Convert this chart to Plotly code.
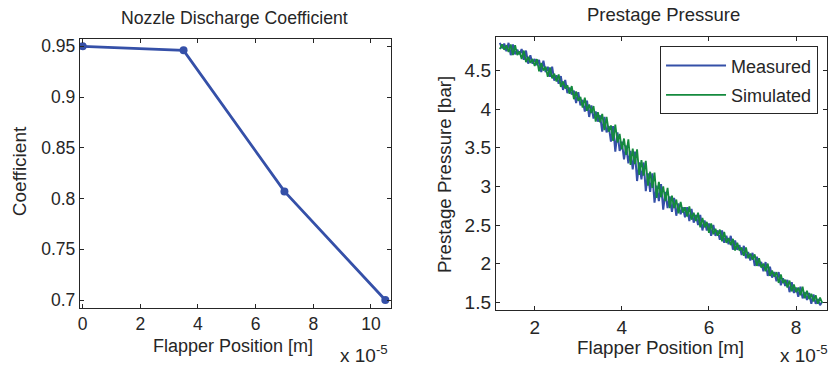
import plotly.graph_objects as go

# ---------------- data ----------------
# Left: nozzle discharge coefficient
flapper_pos_cd = [0.0, 3.5e-5, 7.0e-5, 10.5e-5]
discharge_coeff = [0.950, 0.946, 0.807, 0.700]

# Right: prestage pressure, flapper position in units of 1e-5 m
pos_units = [1.20, 1.25, 1.30, 1.35, 1.40, 1.45, 1.50, 1.55, 1.60, 1.65, 1.70, 1.75, 1.80, 1.85, 1.90,
             1.95, 2.00, 2.05, 2.10, 2.15, 2.20, 2.25, 2.30, 2.35, 2.40, 2.45, 2.50, 2.55, 2.60, 2.65,
             2.70, 2.75, 2.80, 2.85, 2.90, 2.95, 3.00, 3.05, 3.10, 3.15, 3.20, 3.25, 3.30, 3.35, 3.40,
             3.45, 3.50, 3.55, 3.60, 3.65, 3.70, 3.75, 3.80, 3.85, 3.90, 3.95, 4.00, 4.05, 4.10, 4.15,
             4.20, 4.25, 4.30, 4.35, 4.40, 4.45, 4.50, 4.55, 4.60, 4.65, 4.70, 4.75, 4.80, 4.85, 4.90,
             4.95, 5.00, 5.05, 5.10, 5.15, 5.20, 5.25, 5.30, 5.35, 5.40, 5.45, 5.50, 5.55, 5.60, 5.65,
             5.70, 5.75, 5.80, 5.85, 5.90, 5.95, 6.00, 6.05, 6.10, 6.15, 6.20, 6.25, 6.30, 6.35, 6.40,
             6.45, 6.50, 6.55, 6.60, 6.65, 6.70, 6.75, 6.80, 6.85, 6.90, 6.95, 7.00, 7.05, 7.10, 7.15,
             7.20, 7.25, 7.30, 7.35, 7.40, 7.45, 7.50, 7.55, 7.60, 7.65, 7.70, 7.75, 7.80, 7.85, 7.90,
             7.95, 8.00, 8.05, 8.10, 8.15, 8.20, 8.25, 8.30, 8.35, 8.40, 8.45, 8.50, 8.55, 8.60]

measured_bar = [4.86, 4.79, 4.85, 4.75, 4.86, 4.70, 4.84, 4.71, 4.77, 4.71, 4.78, 4.64, 4.76, 4.59, 4.70,
                4.59, 4.65, 4.57, 4.64, 4.48, 4.63, 4.48, 4.55, 4.42, 4.55, 4.37, 4.44, 4.33, 4.43, 4.25,
                4.38, 4.21, 4.28, 4.19, 4.24, 4.08, 4.22, 4.05, 4.12, 3.97, 4.11, 3.90, 4.05, 3.88, 3.97,
                3.84, 3.92, 3.71, 3.90, 3.70, 3.78, 3.58, 3.78, 3.45, 3.70, 3.46, 3.58, 3.35, 3.53, 3.30,
                3.46, 3.22, 3.45, 3.07, 3.31, 3.09, 3.31, 2.94, 3.17, 2.93, 3.17, 2.79, 3.01, 2.81, 3.03,
                2.70, 2.93, 2.72, 2.87, 2.67, 2.85, 2.62, 2.78, 2.64, 2.73, 2.60, 2.73, 2.55, 2.71, 2.53,
                2.63, 2.50, 2.63, 2.43, 2.56, 2.43, 2.52, 2.36, 2.50, 2.36, 2.43, 2.31, 2.43, 2.27, 2.36,
                2.25, 2.36, 2.18, 2.30, 2.18, 2.24, 2.11, 2.23, 2.07, 2.15, 2.04, 2.14, 1.97, 2.09, 1.97,
                2.02, 1.90, 2.02, 1.84, 1.96, 1.82, 1.89, 1.77, 1.89, 1.72, 1.81, 1.71, 1.79, 1.63, 1.76,
                1.62, 1.69, 1.57, 1.70, 1.55, 1.63, 1.53, 1.62, 1.48, 1.60, 1.48, 1.54, 1.46, 1.51]

simulated_bar = [4.78, 4.84, 4.77, 4.83, 4.74, 4.84, 4.70, 4.83, 4.70, 4.75, 4.65, 4.76, 4.61, 4.68, 4.60,
                 4.65, 4.56, 4.65, 4.49, 4.60, 4.50, 4.55, 4.42, 4.54, 4.40, 4.46, 4.36, 4.45, 4.29, 4.36,
                 4.27, 4.31, 4.20, 4.30, 4.13, 4.23, 4.11, 4.16, 4.02, 4.15, 3.98, 4.06, 3.95, 4.04, 3.84,
                 3.96, 3.83, 3.94, 3.73, 3.90, 3.71, 3.79, 3.59, 3.80, 3.57, 3.68, 3.48, 3.62, 3.41, 3.61,
                 3.28, 3.49, 3.29, 3.48, 3.15, 3.34, 3.14, 3.33, 3.01, 3.19, 2.98, 3.18, 2.85, 3.06, 2.86,
                 3.00, 2.81, 2.98, 2.72, 2.88, 2.72, 2.83, 2.65, 2.80, 2.66, 2.73, 2.61, 2.74, 2.57, 2.66,
                 2.55, 2.66, 2.47, 2.59, 2.47, 2.54, 2.40, 2.52, 2.38, 2.45, 2.36, 2.44, 2.29, 2.41, 2.27,
                 2.33, 2.24, 2.32, 2.17, 2.27, 2.17, 2.21, 2.10, 2.21, 2.07, 2.13, 2.05, 2.12, 1.97, 2.07,
                 1.95, 2.00, 1.90, 2.00, 1.84, 1.91, 1.83, 1.89, 1.75, 1.86, 1.75, 1.79, 1.69, 1.78, 1.64,
                 1.73, 1.63, 1.69, 1.59, 1.70, 1.55, 1.65, 1.54, 1.61, 1.51, 1.59, 1.48, 1.56, 1.49]

pos_scale = 1e-5
pos_m = [v * pos_scale for v in pos_units]

left_xticks = [0, 2e-5, 4e-5, 6e-5, 8e-5, 10e-5]
left_xticklabels = ["0", "2", "4", "6", "8", "10"]
left_yticks = [0.70, 0.75, 0.80, 0.85, 0.90, 0.95]
left_yticklabels = ["0.7", "0.75", "0.8", "0.85", "0.9", "0.95"]
right_xticks = [2e-5, 4e-5, 6e-5, 8e-5]
right_xticklabels = ["2", "4", "6", "8"]
right_yticks = [1.5, 2, 2.5, 3, 3.5, 4, 4.5]
right_yticklabels = ["1.5", "2", "2.5", "3", "3.5", "4", "4.5"]

# ---------------- style ----------------
BLUE = "#3550a8"
GREEN = "#148a3e"
TXT = "#262626"
FONT = "Liberation Sans, Arial, sans-serif"
W, H = 833, 369

fig = go.Figure()

fig.add_trace(go.Scatter(
    x=flapper_pos_cd, y=discharge_coeff, mode="lines+markers",
    line=dict(color=BLUE, width=2.8),
    marker=dict(symbol="circle", size=8, color=BLUE),
    xaxis="x", yaxis="y", showlegend=False))

fig.add_trace(go.Scatter(
    x=pos_m, y=measured_bar, mode="lines", name="Measured",
    line=dict(color=BLUE, width=2.0), legendgroup="m",
    xaxis="x2", yaxis="y2"))
fig.add_trace(go.Scatter(
    x=pos_m, y=simulated_bar, mode="lines", name="Simulated",
    line=dict(color=GREEN, width=1.8), legendgroup="s",
    xaxis="x2", yaxis="y2"))

def px(x):
    return x / W

def py(y):
    return (H - y) / H

def axis_style(tick_size):
    return dict(
        showgrid=False, zeroline=False, showline=True, linecolor=TXT, linewidth=1,
        mirror="ticks", ticks="inside", ticklen=4, tickcolor=TXT,
        tickfont=dict(family=FONT, size=tick_size, color=TXT),
    )

fig.update_layout(
    width=W, height=H, autosize=False,
    margin=dict(l=0, r=0, t=0, b=0),
    paper_bgcolor="white", plot_bgcolor="white",
    font=dict(family=FONT, size=17, color=TXT),
    xaxis=dict(domain=[px(78), px(390)], range=[-0.1e-5, 10.7e-5],
               tickvals=left_xticks, ticktext=left_xticklabels, anchor="y", **axis_style(17.5)),
    yaxis=dict(domain=[py(310), py(37)], range=[0.6922, 0.9568],
               tickvals=left_yticks, ticktext=left_yticklabels, anchor="x", **axis_style(17.5)),
    xaxis2=dict(domain=[px(495), px(827)], range=[1.107e-5, 8.71e-5],
                tickvals=right_xticks, ticktext=right_xticklabels, anchor="y2", **axis_style(19)),
    yaxis2=dict(domain=[py(312), py(35)], range=[1.40, 4.93],
                tickvals=right_yticks, ticktext=right_yticklabels, anchor="x2", **axis_style(19)),
    legend=dict(x=px(818), y=py(44), xanchor="right", yanchor="top",
                bgcolor="white", bordercolor=TXT, borderwidth=1,
                font=dict(family=FONT, size=18, color=TXT),
                tracegroupgap=3, itemwidth=60),
    showlegend=True,
)

def ann(text, x, y, size=17, angle=0, xanchor="center", yanchor="middle"):
    fig.add_annotation(text=text, x=px(x), y=py(y), xref="paper", yref="paper",
                       showarrow=False, textangle=angle, xanchor=xanchor, yanchor=yanchor,
                       font=dict(family=FONT, size=size, color=TXT))

ann("Nozzle Discharge Coefficient", 233, 15, size=17.7)
ann("Prestage Pressure", 663, 12, size=18.5)
ann("Flapper Position [m]", 232, 349, size=18)
ann("Flapper Position [m]", 660, 350, size=18.8)
ann("Coefficient", 17, 171, size=19, angle=-90)
ann("Prestage Pressure [bar]", 443, 174, size=18.7, angle=-90)
ann("x 10<sup>-5</sup>", 389, 357, size=19, xanchor="right")
ann("x 10<sup>-5</sup>", 830, 357, size=19, xanchor="right")

fig.write_html("out.html")
